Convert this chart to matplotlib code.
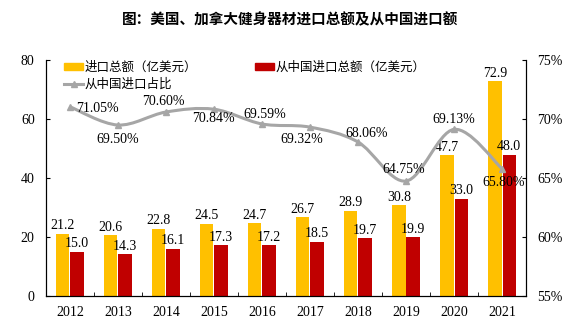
import matplotlib.pyplot as plt
from matplotlib.path import Path
from matplotlib.patches import PathPatch
from matplotlib.lines import Line2D
from matplotlib.patches import Patch
import numpy as np

plt.rcParams['font.family'] = ['Liberation Serif', 'Noto Sans CJK SC']

years = ['2012', '2013', '2014', '2015', '2016', '2017', '2018', '2019', '2020', '2021']
total = [21.2, 20.6, 22.8, 24.5, 24.7, 26.7, 28.9, 30.8, 47.7, 72.9]
china = [15.0, 14.3, 16.1, 17.3, 17.2, 18.5, 19.7, 19.9, 33.0, 48.0]
share = [71.05, 69.50, 70.60, 70.84, 69.59, 69.32, 68.06, 64.75, 69.13, 65.80]

yellow = '#FFC000'
red = '#C00000'
grey = '#A6A6A6'
cjk = ['Noto Sans CJK SC', 'DejaVu Sans']

fig = plt.figure(figsize=(5.8, 3.25), dpi=100)
ax = fig.add_axes([0.079, 0.089, 0.828, 0.726])
ax2 = ax.twinx()

x = np.arange(len(years))
w = 0.28
ax.bar(x - 0.15, total, w, color=yellow)
ax.bar(x + 0.15, china, w, color=red)
for xi, v in zip(x, total):
    ax.annotate(f'{v:.1f}', (xi - 0.15, v), xytext=(0, 1), textcoords='offset points',
                ha='center', va='bottom', fontsize=10)
for xi, v in zip(x, china):
    ax.annotate(f'{v:.1f}', (xi + 0.15, v), xytext=(0, 1), textcoords='offset points',
                ha='center', va='bottom', fontsize=10)

ax.set_xlim(-0.5, len(years) - 0.5)
ax.set_ylim(0, 80)
ax.set_yticks([0, 20, 40, 60, 80])
ax.set_xticks(x)
ax.set_xticklabels(years)
ax.set_xticks(np.arange(-0.5, len(years)), minor=True)
ax.tick_params(axis='x', which='major', length=0, pad=7, labelsize=10)
ax.tick_params(axis='x', which='minor', direction='in', length=3)
ax.tick_params(axis='y', direction='in', length=3, labelsize=10, pad=8)
ax.spines['top'].set_visible(False)

# smooth line through the share points (Catmull-Rom as cubic bezier)
pts = np.column_stack([x, share]).astype(float)
verts = [tuple(pts[0])]
codes = [Path.MOVETO]
for i in range(len(pts) - 1):
    p0 = pts[max(i - 1, 0)]
    p1 = pts[i]
    p2 = pts[i + 1]
    p3 = pts[min(i + 2, len(pts) - 1)]
    c1 = p1 + (p2 - p0) / 6
    c2 = p2 - (p3 - p1) / 6
    verts += [tuple(c1), tuple(c2), tuple(p2)]
    codes += [Path.CURVE4] * 3
ax2.add_patch(PathPatch(Path(verts, codes), fill=False, edgecolor=grey, lw=2.2))
ax2.plot(x, share, ls='none', marker='^', ms=4, color=grey)

# label offsets in pixels
offs = [(28, -2), (0, -14), (-3, 11), (0, -9), (3, 9), (-8, -12), (9, 8), (-2, 12), (0, 10), (2, -14)]
for xi, v, (dx, dy) in zip(x, share, offs):
    ax2.annotate(f'{v:.2f}%', (xi, v), xytext=(dx, dy), textcoords='offset pixels',
                 ha='center', va='center', fontsize=10)

ax2.set_ylim(55, 75)
ax2.set_yticks([55, 60, 65, 70, 75])
ax2.set_yticklabels([f'{t}%' for t in [55, 60, 65, 70, 75]])
ax2.tick_params(axis='y', direction='in', length=3, labelsize=10, pad=8)
ax2.spines['top'].set_visible(False)

handles = [Patch(color=yellow), Line2D([], [], color=grey, lw=2.2, marker='^', ms=4),
           Patch(color=red)]
labels = ['进口总额（亿美元）', '从中国进口占比', '从中国进口总额（亿美元）']
ax.legend(handles, labels, ncol=2, loc='upper left', bbox_to_anchor=(0.015, 1.045),
          frameon=False, prop={'family': cjk, 'size': 9}, handlelength=1.5,
          handleheight=0.5, handletextpad=0.15, columnspacing=4.6, labelspacing=0.35)

fig.text(0.5, 0.94, '图：美国、加拿大健身器材进口总额及从中国进口额', ha='center', va='center',
         fontsize=10.5, fontweight='bold', family=cjk)

fig.savefig('out.png', dpi=100)
